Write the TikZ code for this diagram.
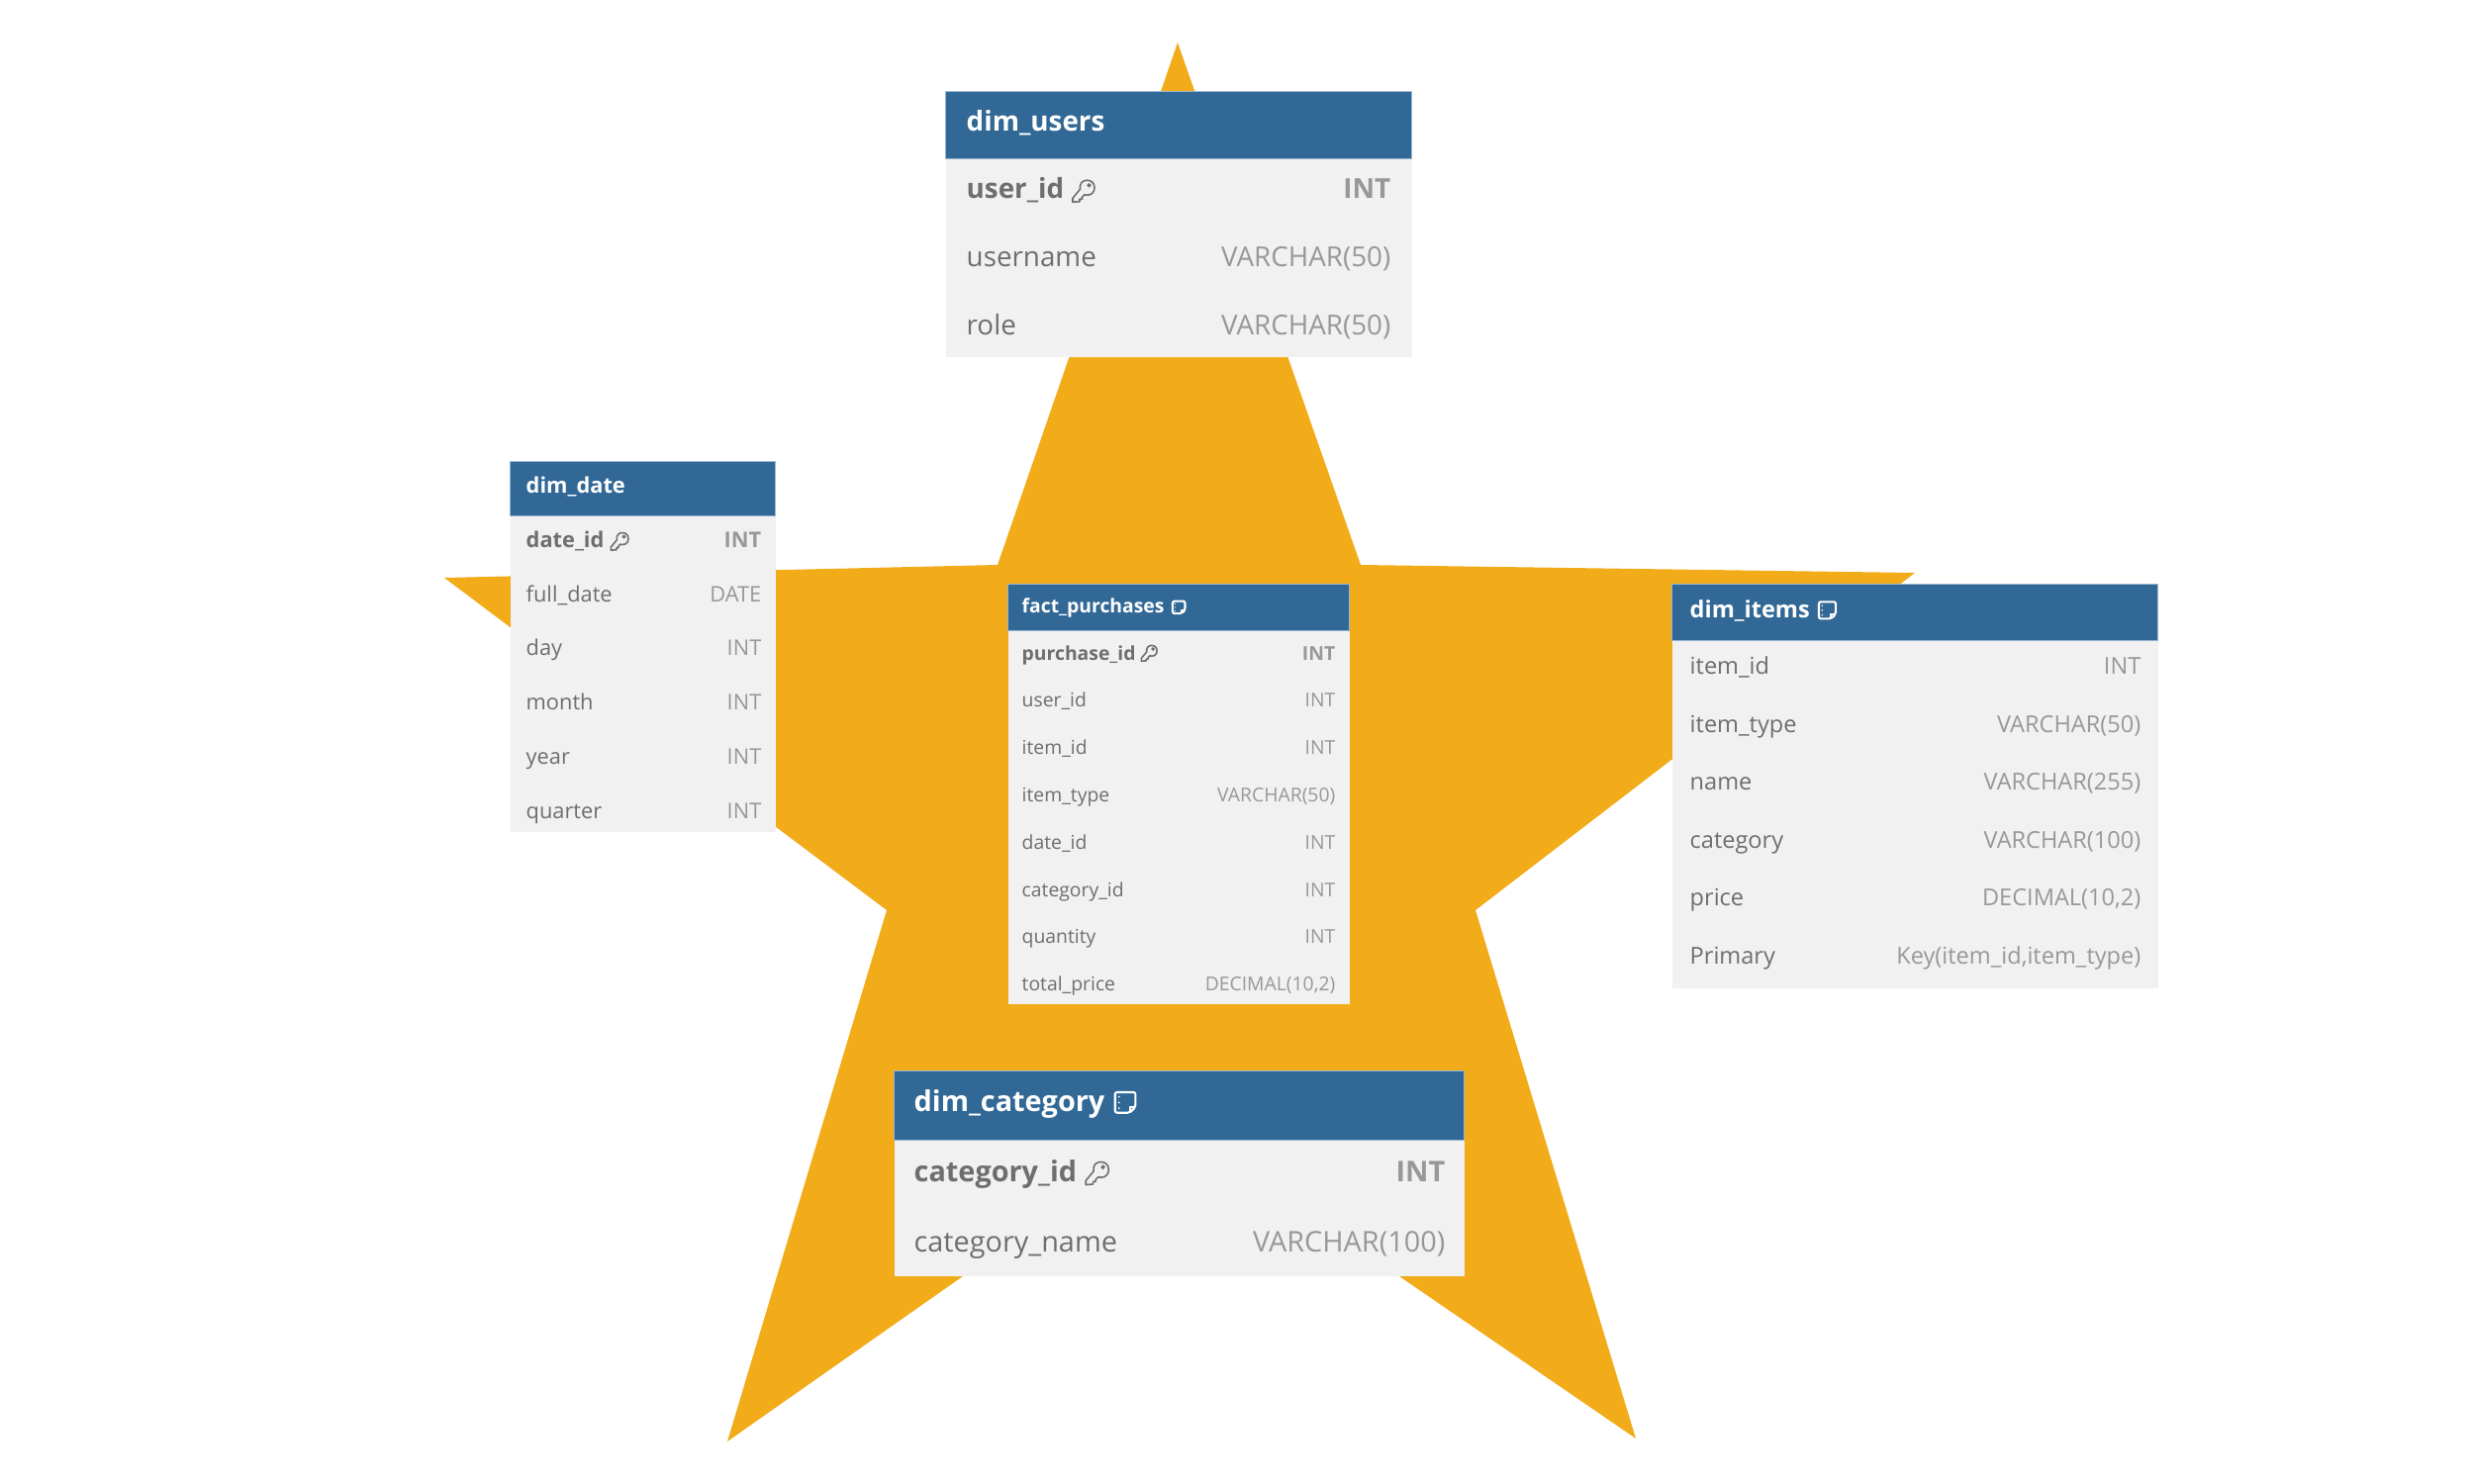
\documentclass[tikz,border=0pt]{standalone}
\usepackage{fontspec}
\setmainfont{Open Sans}
\usepackage{tikz}
\usetikzlibrary{positioning}
\definecolor{starorange}{RGB}{242,172,26}
\definecolor{headblue}{RGB}{49,104,150}
\definecolor{headline}{RGB}{150,182,210}
\definecolor{rowgray}{RGB}{241,241,241}
\definecolor{nametext}{RGB}{110,110,110}
\definecolor{typetext}{RGB}{152,152,152}
\tikzset{
  headbox/.style={fill=headblue,draw=headline,line width=.2pt,anchor=north west,inner sep=0pt},
  rowbox/.style={fill=rowgray,anchor=north west,inner sep=0pt},
  titletext/.style={text=white,inner sep=0pt,anchor=base west},
  nametxt/.style={text=nametext,inner sep=0pt,anchor=base west},
  typetxt/.style={text=typetext,inner sep=0pt,anchor=base east},
  keyicon/.pic={
    \draw[nametext,line width=.45pt,line join=round]
      (-3.5,-2) .. controls (-4.5,-8) and (-1,-11) .. (3.5,-11)
      .. controls (8,-11) and (11,-8) .. (11,-3.5)
      .. controls (11,1) and (8,4) .. (3.5,4)
      .. controls (2.5,4) and (1.5,3.8) .. (1,3.5)
      -- (-1.5,6) -- (-1.5,8) -- (-4,8) -- (-4,10.5) -- (-11,11) -- (-11,7) -- cycle;
    \draw[nametext,line width=.4pt] (5.5,-6) circle (1.4);
  },
  noteicon/.pic={
    \draw[white,line width=.6pt,line join=round,rounded corners=.6pt]
      (-9,-9) -- (9,-9) -- (9,4) -- (4,9) -- (-9,9) -- cycle;
    \draw[white,line width=.6pt,line join=round] (9,4) -- (4,4) -- (4,9);
    \foreach \d in {-5,0,5} \fill[white] (-5.5,\d) circle (.9);
  }
}
\newcommand{\fontcat}{\fontsize{8.2}{10}\selectfont}
\newcommand{\fontusers}{\fontsize{7.9}{10}\selectfont}
\newcommand{\fontitems}{\fontsize{6.7}{8}\selectfont}
\newcommand{\fontdate}{\fontsize{6.2}{8}\selectfont}
\newcommand{\fontfact}{\fontsize{5.5}{7}\selectfont}

\begin{document}
\begin{tikzpicture}[x=.01cm,y=-.01cm]
  \path[fill=white,use as bounding box] (0,0) rectangle (2500,1500);
  % Star
  \fill[starorange] (1190,43) -- (1375,571) -- (1935,579) -- (1491,920) -- (1653,1454)
    -- (1191,1137) -- (735,1457) -- (896,920) -- (449,584) -- (1008,571) -- cycle;
  % dim_users
  \node[headbox,minimum width=4.71cm,minimum height=.68cm] (users) at (955,92) {};
  \node[titletext,font=\fontusers\bfseries] (users-title) at (976,133) {dim\_users};
  \foreach \i/\nm/\ty in {0/\textbf{user\_id}/\textbf{INT},1/username/VARCHAR(50),2/role/VARCHAR(50)} {
    \node[rowbox,minimum width=4.71cm,minimum height=.67cm] (users-\i) at (955,160+\i*66.7) {};
    \node[nametxt,font=\fontusers] (users-name-\i) at (976,201+\i*68.5) {\nm};
    \node[typetxt,font=\fontusers] (users-type-\i) at (1406,201+\i*68.5) {\ty};
  }
  \pic[xshift=.19cm,yshift=.01cm] at (users-name-0.east |- users-0.center) {keyicon};
  % fact_purchases
  \node[headbox,minimum width=3.45cm,minimum height=.47cm] (fact) at (1018,590) {};
  \node[titletext,font=\fontfact\bfseries] (fact-title) at (1032,619) {fact\_purchases};
  \foreach \i/\nm/\ty in {0/\textbf{purchase\_id}/\textbf{INT},1/user\_id/INT,2/item\_id/INT,
    3/item\_type/VARCHAR(50),4/date\_id/INT,5/category\_id/INT,6/quantity/INT,7/total\_price/{DECIMAL(10,2)}} {
    \node[rowbox,minimum width=3.45cm,minimum height=.472cm] (fact-\i) at (1018,637+\i*47.1) {};
    \node[nametxt,font=\fontfact] (fact-name-\i) at (1032,667+\i*47.8) {\nm};
    \node[typetxt,font=\fontfact] (fact-type-\i) at (1350,667+\i*47.8) {\ty};
  }
  \pic[xshift=.13cm,yshift=.01cm,scale=.72] at (fact-name-0.east |- fact-0.center) {keyicon};
  \pic[xshift=.14cm,scale=.7] at (fact-title.east |- fact.center) {noteicon};
  % dim_date
  \node[headbox,minimum width=2.68cm,minimum height=.55cm] (date) at (515,466) {};
  \node[titletext,font=\fontdate\bfseries] (date-title) at (531,498) {dim\_date};
  \foreach \i/\nm/\ty in {0/\textbf{date\_id}/\textbf{INT},1/full\_date/DATE,2/day/INT,3/month/INT,4/year/INT,5/quarter/INT} {
    \node[rowbox,minimum width=2.68cm,minimum height=.532cm] (date-\i) at (515,521+\i*53.2) {};
    \node[nametxt,font=\fontdate] (date-name-\i) at (531,553.5+\i*54.7) {\nm};
    \node[typetxt,font=\fontdate] (date-type-\i) at (770,553.5+\i*54.7) {\ty};
  }
  \pic[xshift=.15cm,yshift=.01cm,scale=.8] at (date-name-0.east |- date-0.center) {keyicon};
  % dim_items
  \node[headbox,minimum width=4.91cm,minimum height=.57cm] (items) at (1689,590) {};
  \node[titletext,font=\fontitems\bfseries] (items-title) at (1707,624) {dim\_items};
  \foreach \i/\nm/\ty in {0/item\_id/INT,1/item\_type/VARCHAR(50),2/name/VARCHAR(255),3/category/VARCHAR(100),
    4/price/{DECIMAL(10,2)},5/Primary/{Key(item\_id,item\_type)}} {
    \node[rowbox,minimum width=4.91cm,minimum height=.585cm] (items-\i) at (1689,647+\i*58.5) {};
    \node[nametxt,font=\fontitems] (items-name-\i) at (1707,681.5+\i*58.5) {\nm};
    \node[typetxt,font=\fontitems] (items-type-\i) at (2164,681.5+\i*58.5) {\ty};
  }
  \pic[xshift=.17cm,yshift=.02cm,scale=.95] at (items-title.east |- items.center) {noteicon};
  % dim_category
  \node[headbox,minimum width=5.76cm,minimum height=.7cm] (category) at (903,1082) {};
  \node[titletext,font=\fontcat\bfseries] (category-title) at (923,1123.5) {dim\_category};
  \foreach \i/\nm/\ty in {0/\textbf{category\_id}/\textbf{INT},1/category\_name/VARCHAR(100)} {
    \node[rowbox,minimum width=5.76cm,minimum height=.685cm] (category-\i) at (903,1152+\i*68.5) {};
    \node[nametxt,font=\fontcat] (category-name-\i) at (923,1194.5+\i*71) {\nm};
    \node[typetxt,font=\fontcat] (category-type-\i) at (1461,1194.5+\i*71) {\ty};
  }
  \pic[xshift=.2cm,yshift=.01cm,scale=1.05] at (category-name-0.east |- category-0.center) {keyicon};
  \pic[xshift=.2cm,yshift=.03cm,scale=1.15] at (category-title.east |- category.center) {noteicon};
\end{tikzpicture}
\end{document}
